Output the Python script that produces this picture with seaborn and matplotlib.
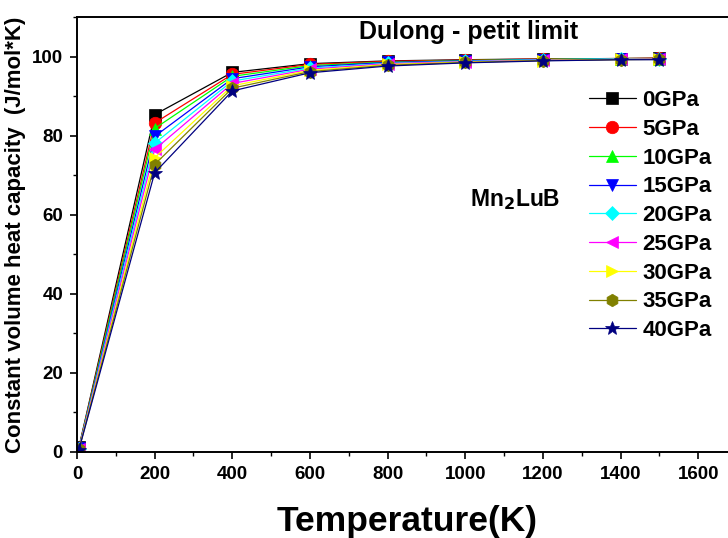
import matplotlib
matplotlib.use("Agg")
import matplotlib.pyplot as plt
import seaborn as sns
from matplotlib.ticker import MultipleLocator

sns.set_style("ticks")
plt.rcParams['font.family'] = ['Liberation Sans', 'DejaVu Sans']
plt.rcParams['text.color'] = 'black'
plt.rcParams['axes.labelcolor'] = 'black'
plt.rcParams['xtick.color'] = 'black'
plt.rcParams['ytick.color'] = 'black'
plt.rcParams['axes.edgecolor'] = 'black'

temperature = [5, 200, 400, 600, 800, 1000, 1200, 1400, 1500]
labels = ["0GPa", "5GPa", "10GPa", "15GPa", "20GPa", "25GPa", "30GPa", "35GPa", "40GPa"]
cv_0 = [1.2, 85.3, 96.0, 98.2, 98.9, 99.2, 99.4, 99.5, 99.6]
cv_5 = [1.1, 83.2, 95.5, 98.0, 98.8, 99.1, 99.4, 99.5, 99.6]
cv_10 = [1.0, 81.8, 95.0, 97.7, 98.6, 99.0, 99.3, 99.5, 99.5]
cv_15 = [0.9, 79.8, 94.4, 97.4, 98.5, 98.9, 99.2, 99.4, 99.5]
cv_20 = [0.85, 78.1, 93.8, 97.1, 98.3, 98.8, 99.2, 99.4, 99.4]
cv_25 = [0.8, 76.5, 93.2, 96.8, 98.2, 98.7, 99.1, 99.3, 99.4]
cv_30 = [0.7, 74.4, 92.6, 96.5, 98.0, 98.6, 99.0, 99.3, 99.3]
cv_35 = [0.65, 72.7, 92.0, 96.2, 97.8, 98.5, 99.0, 99.2, 99.3]
cv_40 = [0.6, 70.6, 91.3, 95.9, 97.6, 98.4, 98.9, 99.2, 99.2]
series = [cv_0, cv_5, cv_10, cv_15, cv_20, cv_25, cv_30, cv_35, cv_40]

colors = ["black", "red", "#00ff00", "blue", "cyan", "magenta", "yellow", "#808000", "#000080"]
markers = ["s", "o", "^", "v", "D", "<", ">", "h", "*"]
msizes = [8, 9, 9, 9, 7, 9, 9, 9, 10]

fig = plt.figure(figsize=(7.28, 5.38), dpi=100)
ax = fig.add_axes([77/728, 86/538, 660/728, 435/538])

for vals, lab, c, m, ms in zip(series, labels, colors, markers, msizes):
    sns.lineplot(x=temperature, y=vals, color=c, marker=m, markersize=ms,
                 markeredgecolor=c, markeredgewidth=0.5, linewidth=0.9,
                 label=lab, ax=ax)

ax.set_xlim(0, 1700)
ax.set_ylim(0, 110)
ax.xaxis.set_major_locator(MultipleLocator(200))
ax.xaxis.set_minor_locator(MultipleLocator(100))
ax.yaxis.set_major_locator(MultipleLocator(20))
ax.yaxis.set_minor_locator(MultipleLocator(10))
ax.set_xticks([0, 200, 400, 600, 800, 1000, 1200, 1400, 1600])
ax.tick_params(which='major', direction='out', length=5, width=1.2, pad=5)
ax.tick_params(which='minor', direction='out', length=3, width=1.0)
for sp in ax.spines.values():
    sp.set_linewidth(1.4)
    sp.set_color('black')

for lbl in ax.get_xticklabels() + ax.get_yticklabels():
    lbl.set_fontweight('bold')
    lbl.set_fontsize(13.5)

ax.set_xlabel("Temperature(K)", fontsize=25.5, fontweight='bold', labelpad=16)
ax.set_ylabel("Constant volume heat capacity  (J/mol*K)", fontsize=16, fontweight='bold', labelpad=4)

ax.text(469/728, 1 - 32/538, "Dulong - petit limit", transform=fig.transFigure,
        ha='center', va='center', fontsize=18, fontweight='bold')
ax.text(470/728, 1 - 200/538, r"Mn$_\mathbf{2}$LuB", transform=fig.transFigure,
        ha='left', va='center', fontsize=16.5, fontweight='bold')

leg = ax.legend(loc='upper left', bbox_to_anchor=((589-77)/660, (452-90)/435),
                frameon=False, prop={'weight': 'bold', 'size': 16},
                handlelength=2.1, handletextpad=0.3, labelspacing=0.35,
                borderpad=0, borderaxespad=0)

fig.savefig("out.png", dpi=100)
